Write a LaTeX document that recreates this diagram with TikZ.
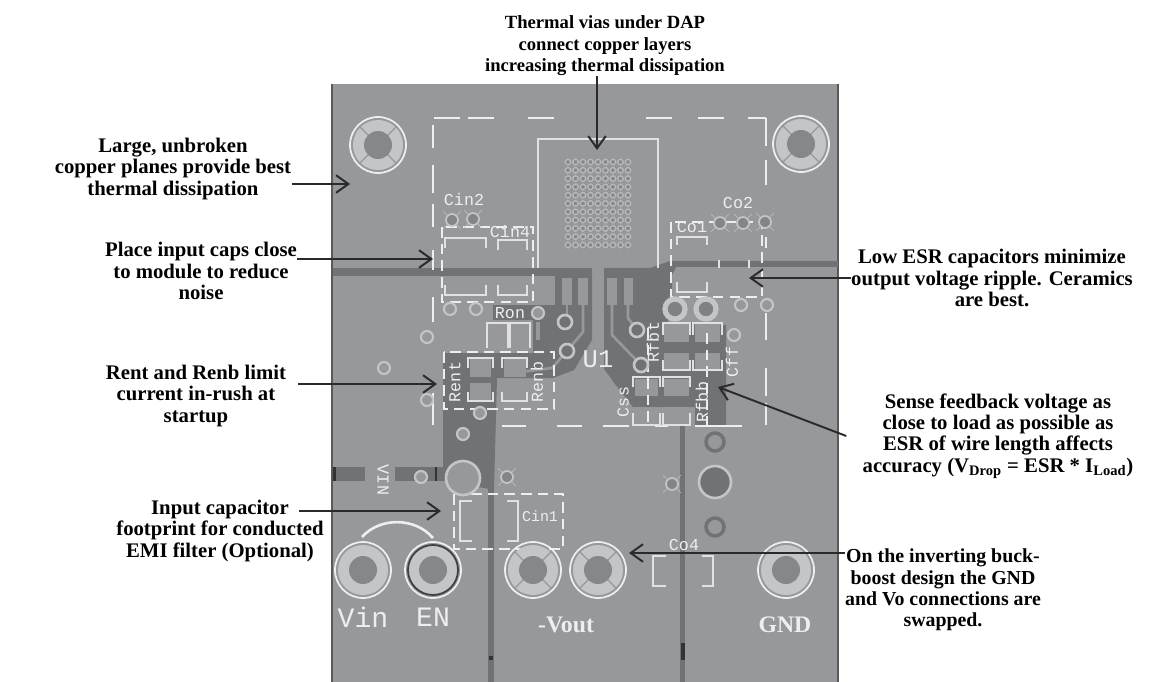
\documentclass[tikz,border=0pt]{standalone}
\usepackage{xcolor}
\usepackage{fontspec}
\setmainfont{Liberation Serif}
\newfontfamily\silkfont{Liberation Mono}
\usetikzlibrary{arrows.meta, calc}
\definecolor{boardGray}{RGB}{151, 152, 155}
\definecolor{copperGray}{RGB}{113, 114, 117}
\definecolor{ringGray}{RGB}{196, 197, 198}
\definecolor{silkWhite}{RGB}{238, 238, 238}
\definecolor{inkBlack}{RGB}{42, 42, 42}
\tikzset{
    note/.style={align=center, font=\fontsize{11.8}{12.2}\selectfont\bfseries, text=black, inner sep=0pt},
    callout/.style={-{Straight Barb[length=7pt, width=10pt, line width=1.1pt]}, line width=1.1pt, inkBlack},
    silk/.style={silkWhite!85!boardGray, line width=0.9pt},
    keepout/.style={silkWhite, line width=1.3pt},
    dashbox/.style={silkWhite, line width=1.5pt, dash pattern=on 6pt off 3.5pt},
    silktext/.style={font=\silkfont\fontsize{9.5}{10}\selectfont, text=silkWhite, inner sep=0pt},
    padtext/.style={font=\silkfont\fontsize{16}{18}\selectfont, text=silkWhite, inner sep=0pt},
    boldtext/.style={font=\fontsize{13.5}{15}\selectfont\bfseries, text=silkWhite, inner sep=0pt},
    viaring/.style={draw=ringGray, line width=1.2pt, fill=boardGray},
}
\begin{document}
\begin{tikzpicture}[x=0.02cm, y=-0.02cm]
    \useasboundingbox (0,0) rectangle (1156,682);
    \fill[white] (0,0) rectangle (1156,682);

    % Board
    \fill[boardGray] (332,84) rectangle (838,682);
    \draw[black!65, line width=0.7pt] (332,84) -- (332,682);
    \draw[black!65, line width=0.7pt] (838,84) -- (838,682);

    % Copper
    \fill[copperGray] (333,268) rectangle (592,276);
    \fill[copperGray] (604,268) -- (650,268) -- (670,261) -- (838,261) -- (838,267) -- (676,267)
        -- (672,275) -- (672,297) -- (668,322) -- (726,325) -- (726,425) -- (695,425) -- (695,407)
        -- (633,407) -- (604,370) -- (604,268) -- cycle;
    \fill[copperGray] (555,276) -- (592,276) -- (592,340) -- (574,370) -- (553,378) -- (497,378)
        -- (494,490) -- (443,480) -- (443,353) -- (533,353) -- (533,320) -- (493,320) -- (493,305)
        -- (555,305) -- cycle;
    \fill[copperGray] (333,467) rectangle (365,481);
    \fill[copperGray] (395,467) rectangle (445,481);
    \fill[copperGray] (488,480) rectangle (494,682);
    \fill[copperGray] (680,425) rectangle (685,682);

    % Black marks on the traces
    \foreach \xa/\ya/\xb/\yb in {333/467/336/481, 681/643/685/660, 489/656/493/660, 435/467/437/481}
        \fill[black!80] (\xa,\ya) rectangle (\xb,\yb);

    % Gaps left in the copper under the module
    \foreach \xa/\xb in {562/572, 578/588, 607/617, 624/633}
        \fill[boardGray] (\xa,278) rectangle (\xb,305);
    \fill[boardGray] (593,262) rectangle (603,340);
    \fill[boardGray] (593,340) -- (603,340) -- (603,368) -- (612,380) -- (574,380) -- (593,345) -- cycle;
    \fill[boardGray] (536,322) rectangle (540,340);
    \draw[boardGray, line width=1.5pt] (567,305) -- (567,322);
    \draw[boardGray, line width=1.5pt] (583,305) -- (583,332) -- (567,351) -- (552,368) -- (520,372);
    \draw[boardGray, line width=1.5pt] (612,305) -- (612,335) -- (641,365);
    \draw[boardGray, line width=1.5pt] (628,305) -- (628,318) -- (637,330);

    % Pads
    \foreach \xa/\ya/\xb/\yb in {449/240/484/262, 449/276/484/293, 500/242/526/262, 500/278/526/293,
        680/276/706/290, 490/324/508/346, 514/324/528/346, 470/359/491/377, 470/383/491/400,
        504/359/526/377, 504/383/526/400, 664/324/689/342, 695/324/720/342, 664/353/689/369,
        695/353/720/369, 635/379/658/396, 664/379/689/396, 635/407/658/423, 664/407/689/423}
        \fill[boardGray] (\xa,\ya) rectangle (\xb,\yb);

    % Thermal pad and vias under the DAP
    \draw[silk] (538,268) -- (538,139) -- (658,139) -- (658,268);
    \foreach \i in {0,...,8}
        \foreach \j in {0,...,10} {
            \draw[black!50, line width=0.35pt] ({568+\i*7.5-2.8},{162+\j*8.3-2.8}) -- ({568+\i*7.5+2.8},{162+\j*8.3+2.8})
                ({568+\i*7.5-2.8},{162+\j*8.3+2.8}) -- ({568+\i*7.5+2.8},{162+\j*8.3-2.8});
            \draw[ringGray!75!boardGray, line width=0.7pt] ({568+\i*7.5},{162+\j*8.3}) circle[radius=2.8];
        }

    % Keep-out outline, in pieces
    \foreach \xa/\xb in {434/460, 468/494, 528/554, 646/672, 698/724, 748/766}
        \draw[keepout] (\xa,118) -- (\xb,118);
    \foreach \xa/\xb in {502/526, 557/582, 603/629, 655/668, 695/742}
        \draw[keepout] (\xa,426) -- (\xb,426);
    \foreach \ya/\yb in {125/148, 165/193, 204/227, 250/270, 297/322, 393/425}
        \draw[keepout] (433,\ya) -- (433,\yb);
    \foreach \ya/\yb in {118/146, 160/185, 237/248, 313/340, 368/396, 403/425}
        \draw[keepout] (766,\ya) -- (766,\yb);
    \foreach \xa/\xb in {719/719, 749/749}
        \draw[silk] (\xa,260) -- (\xb,268);

    % Dashed component boxes
    \draw[dashbox] (442,227) rectangle (533,302);
    \draw[dashbox] (444,352) rectangle (554,409);
    \draw[dashbox] (454,494) rectangle (563,549);
    \draw[dashbox] (671,222) rectangle (762,297);
    \draw[dashbox] (648,328) -- (648,425);
    \draw[dashbox] (707,333) -- (707,425);

    % Brackets round the pads
    \foreach \xa/\xb/\ya/\yb in {445/486/248/238, 445/486/285/295, 498/527/250/240, 498/527/285/295,
        677/707/245/237, 677/707/282/292, 468/493/368/358, 468/493/392/401, 502/527/368/358,
        502/527/392/401, 663/690/335/323, 693/722/335/323, 663/690/360/370, 693/722/360/370,
        633/660/387/377, 663/690/387/377, 633/660/413/425, 663/690/413/425, 487/508/348/323, 510/530/348/323}
        \draw[silk] (\xa,\ya) -- (\xa,\yb) -- (\xb,\yb) -- (\xb,\ya);
    \foreach \xa/\xb in {460/472, 518/507, 653/666, 713/702} {
        \pgfmathsetmacro{\ya}{\xa<600 ? 501 : 556}
        \pgfmathsetmacro{\yb}{\xa<600 ? 541 : 586}
        \draw[silk] (\xb,\ya) -- (\xa,\ya) -- (\xa,\yb) -- (\xb,\yb);
    }
    \draw[silkWhite, line width=1.5pt] (362,537) .. controls (380,517) and (415,517) .. (433,538);

    % Small vias
    \foreach \cx/\cy in {450/309, 476/309, 427/337, 384/368, 427/400, 538/313, 741/305, 767/305,
        734/335, 480/413, 463/434, 421/477}
        \draw[viaring] (\cx,\cy) circle[radius=6];
    \foreach \cx/\cy in {507/477, 672/484, 452/220, 473/219, 720/223, 743/223, 765/222} {
        \draw[ringGray, line width=0.3pt] (\cx-9,\cy-9) -- (\cx+9,\cy+9) (\cx-9,\cy+9) -- (\cx+9,\cy-9);
        \draw[draw=ringGray, line width=1pt, fill=copperGray!50!boardGray] (\cx,\cy) circle[radius=6];
    }
    \foreach \cx/\cy in {565/322, 567/351, 637/330, 641/365}
        \draw[draw=ringGray, line width=1.5pt, fill=copperGray] (\cx,\cy) circle[radius=7];
    \foreach \cx/\cy in {675/309, 706/309}
        \draw[draw=ringGray, line width=3pt, fill=copperGray!60!boardGray] (\cx,\cy) circle[radius=10];
    \foreach \cx/\cy in {715/442, 715/527}
        \draw[draw=copperGray, line width=2pt, fill=boardGray] (\cx,\cy) circle[radius=9];
    \draw[draw=ringGray, line width=1.5pt, fill=copperGray] (715,482) circle[radius=16];
    \draw[draw=ringGray, line width=1.5pt, fill=boardGray] (463,478) circle[radius=17];

    % Mounting pads
    \foreach \cx/\cy in {378/145, 801/144, 363/570, 433/570, 533/570, 598/570, 786/570} {
        \fill[ringGray] (\cx,\cy) circle[radius=25];
        \draw[silkWhite, line width=1pt] (\cx,\cy) circle[radius=28];
    }
    \foreach \cx/\cy in {378/145, 801/144, 533/570, 598/570}
        \draw[boardGray, line width=0.7pt] (\cx-18,\cy-18) -- (\cx+18,\cy+18) (\cx-18,\cy+18) -- (\cx+18,\cy-18);
    \foreach \cx/\cy in {378/145, 801/144, 363/570, 433/570, 533/570, 598/570, 786/570}
        \fill[copperGray!45!boardGray] (\cx,\cy) circle[radius=14];
    \draw[black!75, line width=1pt] (433,570) circle[radius=25];

    % Silkscreen labels
    \node[silktext] (cintwo) at (464,200) {Cin2};
    \node[silktext] (cinfour) at (510,232) {Cin4};
    \node[silktext] (coone) at (692,227) {Co1};
    \node[silktext] (cotwo) at (738,203) {Co2};
    \node[silktext] (ron) at (510,313) {Ron};
    \node[silktext, rotate=90] (rent) at (455,382) {Rent};
    \node[silktext, rotate=90] (renb) at (537,382) {Renb};
    \node[silktext, rotate=90] (rfbt) at (653,342) {Rfbt};
    \node[silktext, rotate=90] (cff) at (732,362) {Cff};
    \node[silktext, rotate=90] (css) at (623,402) {Css};
    \node[silktext, rotate=90] (rfbb) at (702,402) {Rfbb};
    \node[silktext, font=\silkfont\fontsize{8.5}{10}\selectfont] (cinone) at (540,516) {Cin1};
    \node[silktext] (cofour) at (684,545) {Co4};
    \node[silktext, rotate=-90] (vinmark) at (383,480) {VIN};
    \node[padtext, font=\silkfont\fontsize{14.5}{16}\selectfont] (uone) at (598,359) {U1};
    \node[padtext] (vinlabel) at (363,617) {Vin};
    \node[padtext] (enlabel) at (433,617) {EN};
    \node[boldtext] (voutlabel) at (566,625) {-Vout};
    \node[boldtext] (gndlabel) at (785,625) {GND};

    % Notes
    \node[note, font=\fontsize{10.6}{12.2}\selectfont\bfseries] (thermal) at (605,46) {Thermal vias under DAP\\connect copper layers\\increasing thermal dissipation};
    \node[note] (planes) at (173,169) {Large, unbroken\\copper planes provide best\\thermal dissipation};
    \node[note] (inputcaps) at (201,271) {Place input caps close\\to module to reduce\\noise};
    \node[note] (inrush) at (196,396) {Rent and Renb limit\\current in-rush at\\startup};
    \node[note] (emifilter) at (220,531) {Input capacitor\\footprint for conducted\\EMI filter (Optional)};
    \node[note] (lowesr) at (992,278) {Low ESR capacitors minimize\\output voltage ripple. Ceramics\\are best.};
    \node[note] (sense) at (998,436) {Sense feedback voltage as\\close to load as possible as\\ESR of wire length affects\\accuracy (V\textsubscript{Drop} = ESR * I\textsubscript{Load})};
    \node[note, font=\fontsize{11.3}{12.2}\selectfont\bfseries] (swapped) at (943,590) {On the inverting buck-\\boost design the GND\\and Vo connections are\\swapped.};

    % Arrow ends
    \coordinate (thermaltip) at (597,150);
    \coordinate (planestip) at (350,184);
    \coordinate (inputtip) at (433,259);
    \coordinate (inrushtip) at (437,384);
    \coordinate (emitip) at (441,511);
    \coordinate (esrtip) at (749,278);
    \coordinate (sensetip) at (718,387);
    \coordinate (swaptip) at (629,553);

    \draw[callout] (thermaltip |- thermal.south) -- (thermaltip);
    \draw[callout] (planes.east |- planestip) -- (planestip);
    \draw[callout] (inputcaps.east |- inputtip) -- (inputtip);
    \draw[callout] ($(inrush.east |- inrushtip)+(12,0)$) -- (inrushtip);
    \draw[callout] ($(emifilter.east |- emitip)+(-25,0)$) -- (emitip);
    \draw[callout] (lowesr.west |- esrtip) -- (esrtip);
    \draw[callout] ($(sense.west)+(-16,0)$) -- (sensetip);
    \draw[callout] (swapped.west |- swaptip) -- (swaptip);
\end{tikzpicture}
\end{document}
